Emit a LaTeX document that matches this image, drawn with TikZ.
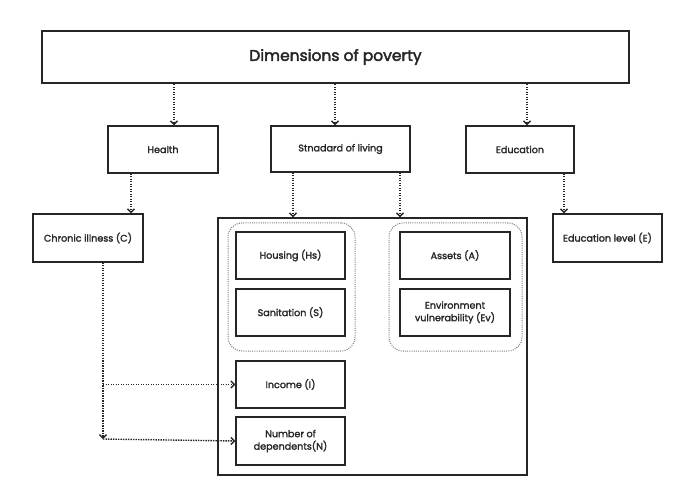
\documentclass[tikz,border=0pt]{standalone}
\usepackage{fontspec}
\setmainfont{Poppins}[BoldFont=Poppins,BoldFeatures={FakeBold=2}]
\newfontfamily\povTitleFont{Poppins}[FakeBold=2.6]
\usetikzlibrary{arrows.meta,positioning,calc}
\definecolor{povInk}{HTML}{262626}
\definecolor{povDots}{HTML}{7A7A7A}

\begin{document}
\begin{tikzpicture}[x=1pt,y=-1pt,font=\fontsize{9.6}{12.5}\selectfont\bfseries,
    box/.style={draw=povInk,line width=1.2pt,text=povInk,align=center,inner sep=2pt},
    group/.style={draw=povDots,line width=1pt,dash pattern=on 1pt off 1.2pt,rounded corners=14pt},
    link/.style={draw=povInk,line width=1.4pt,dash pattern=on 1.4pt off 1.1pt,
                 -{Straight Barb[length=3.5pt,width=7pt,line width=1.4pt]}}]
  \useasboundingbox (0,0) rectangle (696,494);
  % title
  \node[box,line width=2.2pt,minimum width=587pt,minimum height=52pt,
        font=\fontsize{15.5}{18}\povTitleFont] (title) at (335.5,57) {Dimensions of poverty};
  % dimensions
  \node[box,minimum width=110pt,minimum height=47pt] (health) at (163,149.5) {Health};
  \node[box,minimum width=139pt,minimum height=46pt] (living) at (340.5,149) {Stnadard of living};
  \node[box,minimum width=108pt,minimum height=47pt] (edu) at (520,149.5) {Education};
  % indicators
  \node[box,minimum width=110pt,minimum height=48pt] (chronic) at (88,238) {Chronic illness (C)};
  \node[box,minimum width=109pt,minimum height=48pt] (edulevel) at (607.5,238) {Education level (E)};
  \node[box,minimum width=309pt,minimum height=257pt] (living box) at (372.5,346.5) {};
  \node[group,minimum width=127pt,minimum height=128pt] (left group) at (291.5,287) {};
  \node[group,minimum width=133pt,minimum height=128pt] (right group) at (455.5,287) {};
  \node[box,minimum width=109pt,minimum height=47pt] (housing) at (290.5,255.5) {Housing (Hs)};
  \node[box,minimum width=109pt,minimum height=47pt] (sanit) at (290.5,312.5) {Sanitation (S)};
  \node[box,minimum width=110pt,minimum height=47pt] (assets) at (455,255.5) {Assets (A)};
  \node[box,minimum width=110pt,minimum height=47pt] (envir) at (455,312.5) {Environment\\vulnerability (Ev)};
  \node[box,minimum width=109pt,minimum height=47pt] (income) at (290.5,384.5) {Income (I)};
  \node[box,minimum width=109pt,minimum height=48pt] (depend) at (290.5,441) {Number of\\dependents(N)};
  \coordinate (corner) at (103,439);
  % connectors
  \draw[link] (title.south -| 174,0) -- (health.north -| 174,0);
  \draw[link] (title.south -| 335,0) -- (living.north -| 335,0);
  \draw[link] (title.south -| 527,0) -- (edu.north -| 527,0);
  \draw[link] (health.south -| 131,0) -- (chronic.north -| 131,0);
  \draw[link] (living.south -| 293,0) -- (living box.north -| 293,0);
  \draw[link] (living.south -| 400,0) -- (living box.north -| 400,0);
  \draw[link] (edu.south -| 564,0) -- (edulevel.north -| 564,0);
  \draw[link] (chronic.south -| corner) -- (corner);
  \draw[link] (income.west -| corner) -- (income.west);
  \draw[link] (corner) -- (depend.west);
\end{tikzpicture}
\end{document}
